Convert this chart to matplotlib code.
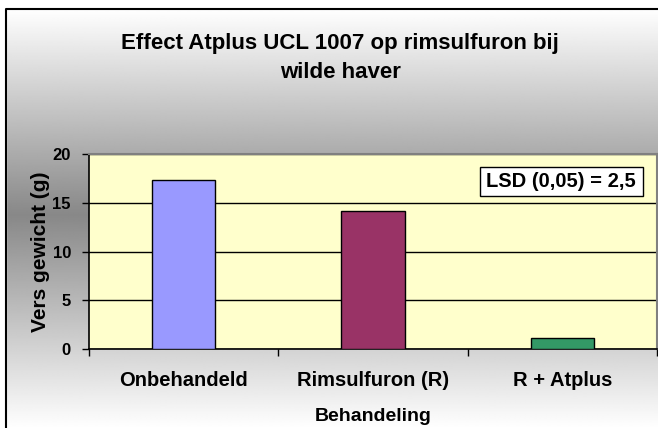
import numpy as np
import matplotlib.pyplot as plt
from matplotlib.patches import Rectangle

categories = ["Onbehandeld", "Rimsulfuron (R)", "R + Atplus"]
values = [17.3, 14.2, 1.1]
colors = ["#9999FF", "#993366", "#339966"]
yticks = [0, 5, 10, 15, 20]

plt.rcParams['font.family'] = ['Liberation Sans', 'DejaVu Sans']
plt.rcParams['font.weight'] = 'bold'

W, H = 658, 428
fig = plt.figure(figsize=(W / 100, H / 100), dpi=100)

# background gradient: white -> grey -> white, with a black frame
bg = fig.add_axes([0, 0, 1, 1], zorder=-10)
rows = np.arange(H)
top, mid, bot = 9, 215, H
shade = np.where(rows < mid,
                 255 - (rows - top) / (mid - top) * (255 - 136),
                 136 + (rows - mid) / (bot - mid) * (255 - 136))
shade = np.clip(shade, 0, 255) / 255.0
grad = np.repeat(shade[:, None], 2, axis=1)
bg.imshow(grad, cmap='gray', vmin=0, vmax=1, aspect='auto',
          extent=[0, W, H, 0], interpolation='bilinear')
bg.set_xlim(0, W)
bg.set_ylim(H, 0)
bg.add_patch(Rectangle((0, 0), W, 9, color='white', zorder=2))
bg.add_patch(Rectangle((0, 0), 6, H, color='white', zorder=2))
bg.plot([6, 6, W], [H, 9, 9], color='black', lw=1.5, zorder=3)
bg.axis('off')

ax = fig.add_axes([89 / W, 1 - 349 / H, 568 / W, 195 / H])
ax.set_facecolor("#FFFFCC")
x = np.arange(len(categories))
ax.bar(x, values, width=0.336, color=colors, edgecolor='black', linewidth=1, zorder=3)
ax.set_xlim(-0.5, 2.5)
ax.set_ylim(0, 20)
ax.set_yticks(yticks)
ax.yaxis.grid(True, color='black', linewidth=1)
ax.set_axisbelow(True)
ax.set_xticks(x)
ax.set_xticklabels(categories, fontsize=14.5, fontweight='bold')
ax.set_xticks(np.arange(-0.5, 3, 1), minor=True)
ax.tick_params(axis='x', which='major', length=0, pad=16)
ax.tick_params(axis='x', which='minor', length=5, width=1, color='black')
ax.tick_params(axis='y', length=5, width=1, color='black', labelsize=12, pad=8)
for lab in ax.get_yticklabels():
    lab.set_fontweight('bold')
for s in ['left', 'bottom']:
    ax.spines[s].set_color('black')
    ax.spines[s].set_linewidth(1.2)
for s in ['top', 'right']:
    ax.spines[s].set_color('#808080')
    ax.spines[s].set_linewidth(1.5)
ax.set_xlabel("Behandeling", fontsize=14, fontweight='bold', labelpad=13)
ax.set_ylabel("Vers gewicht (g)", fontsize=15, fontweight='bold', labelpad=2)

fig.text(340 / W, 1 - 43 / H, "Effect Atplus UCL 1007 op rimsulfuron bij",
         ha='center', va='center', fontsize=16, fontweight='bold')
fig.text(340 / W, 1 - 73 / H, "wilde haver",
         ha='center', va='center', fontsize=16, fontweight='bold')

# LSD label box
ax.add_patch(Rectangle(((480 - 89) / 568, (349 - 196) / 195), 163 / 568, 29 / 195,
                       transform=ax.transAxes, facecolor='white', edgecolor='black',
                       linewidth=1, zorder=5))
ax.text((486 - 89) / 568, (349 - 181.5) / 195, "LSD (0,05) = 2,5", transform=ax.transAxes,
        ha='left', va='center', fontsize=14.5, fontweight='bold', zorder=6)

fig.savefig("out.png", dpi=100)
